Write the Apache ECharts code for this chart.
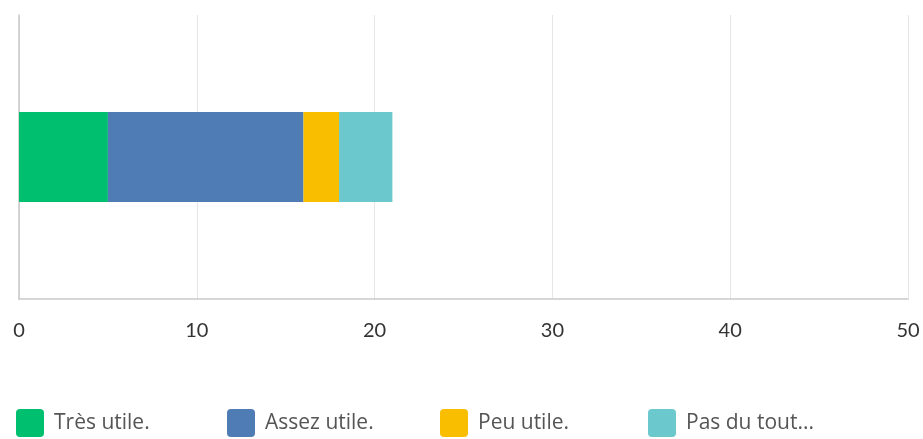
<!DOCTYPE html>
<html><head><meta charset="utf-8">
<script src="https://cdn.jsdelivr.net/npm/echarts@6/dist/echarts.min.js"></script>
<style>html,body{margin:0;padding:0;background:#fff}#c{width:923px;height:439px}</style>
</head><body><div id="c"></div>
<script>
const categories = ['Q'];
const seriesNames = ['Très utile.', 'Assez utile.', 'Peu utile.', 'Pas du tout...'];
const seriesValues = [[5], [11], [2], [3]];
const colors = ['#00BF6F', '#507CB6', '#F9BE00', '#6BC8CD'];
const xTicks = [0, 10, 20, 30, 40, 50];
const legendLeft = [16, 227, 440, 648];

const chart = echarts.init(document.getElementById('c'), null, {renderer: 'canvas'});
chart.setOption({
  animation: false,
  color: colors,
  grid: {left: 19, right: 15, top: 15, bottom: 140, containLabel: false},
  xAxis: {
    type: 'value', min: xTicks[0], max: xTicks[xTicks.length - 1], interval: 10,
    axisLine: {show: true, lineStyle: {color: '#c9c9c9', width: 1.5}},
    axisTick: {show: false},
    splitLine: {show: true, lineStyle: {color: '#e6e6e6', width: 1}},
    axisLabel: {color: '#333', fontSize: 20, fontFamily: 'Lato', margin: 22}
  },
  yAxis: {
    type: 'category', data: categories,
    axisLine: {show: true, lineStyle: {color: '#c9c9c9', width: 1.5}},
    axisTick: {show: false}, axisLabel: {show: false}
  },
  legend: seriesNames.map((n, i) => ({
    top: 409, left: legendLeft[i], padding: 0, itemWidth: 28, itemHeight: 28,
    icon: 'path://M4,0 L24,0 Q28,0 28,4 L28,24 Q28,28 24,28 L4,28 Q0,28 0,24 L0,4 Q0,0 4,0 Z',
    textStyle: {fontSize: 21, color: '#555', fontFamily: 'Open Sans', padding: [2, 0, 0, 5]},
    data: [n]
  })),
  series: seriesNames.map((n, i) => ({
    name: n, type: 'bar', stack: 'total', barWidth: 90,
    data: seriesValues[i]
  }))
});
</script></body></html>
